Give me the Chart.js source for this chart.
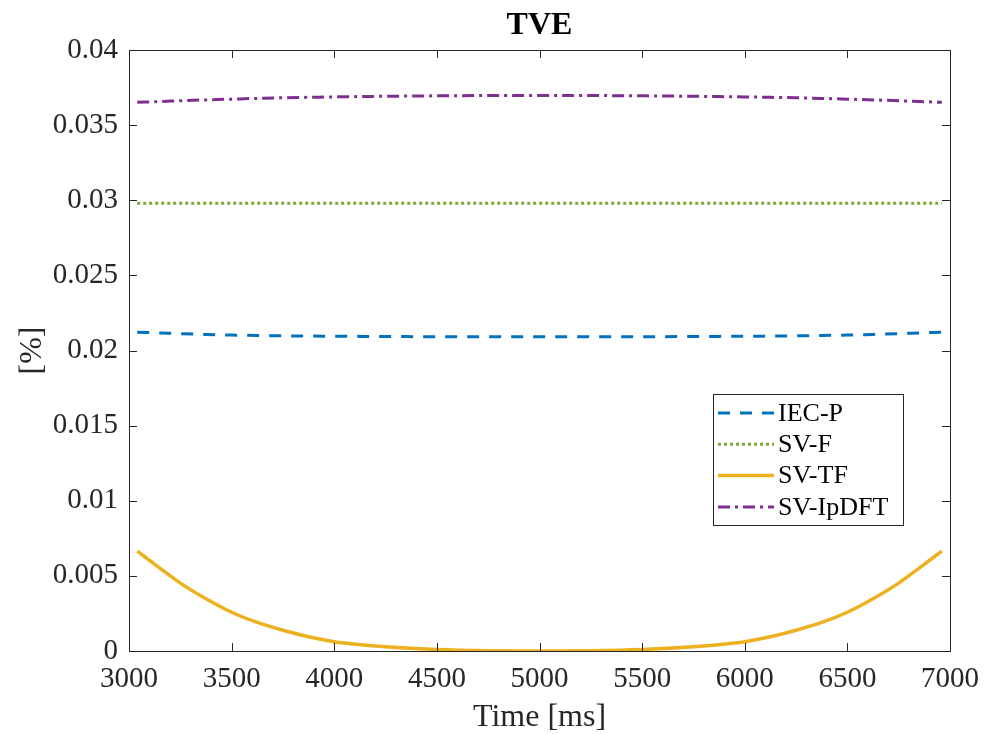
<!DOCTYPE html>
<html>
<head>
<meta charset="utf-8">
<script src="https://cdn.jsdelivr.net/npm/chart.js@4.4.1/dist/chart.umd.min.js"></script>
<style>
  body { margin: 0; background: #fff; }
  #wrap { width: 988px; height: 734px; }
</style>
</head>
<body>
<div id="wrap"><canvas id="graph" width="988" height="734"></canvas></div>
<script>
// valores
const timeMs = [3040, 3150, 3250, 3375, 3500, 3625, 3750, 3875, 4000, 4125, 4250, 4500, 4750, 5000, 5250, 5500, 5750, 5875, 6000, 6125, 6250, 6375, 6500, 6625, 6750, 6850, 6960];
const iecP = [0.02122, 0.02117, 0.02112, 0.02107, 0.02103, 0.02100, 0.02098, 0.02096, 0.02095, 0.02094, 0.02093, 0.02092, 0.02092, 0.02092, 0.02092, 0.02092, 0.02093, 0.02094, 0.02095, 0.02096, 0.02098, 0.02100, 0.02103, 0.02107, 0.02112, 0.02117, 0.02122];
const svF = [0.02980, 0.02980, 0.02980, 0.02980, 0.02980, 0.02980, 0.02980, 0.02980, 0.02980, 0.02980, 0.02980, 0.02980, 0.02980, 0.02980, 0.02980, 0.02980, 0.02980, 0.02980, 0.02980, 0.02980, 0.02980, 0.02980, 0.02980, 0.02980, 0.02980, 0.02980, 0.02980];
const svTF = [0.00665, 0.00552, 0.00452, 0.00348, 0.00258, 0.00190, 0.00138, 0.00095, 0.00062, 0.00042, 0.00028, 0.00010, 0.00002, 0.00000, 0.00002, 0.00010, 0.00028, 0.00042, 0.00062, 0.00095, 0.00138, 0.00190, 0.00258, 0.00348, 0.00452, 0.00552, 0.00665];
const svIpDFT = [0.03652, 0.03657, 0.03662, 0.03668, 0.03673, 0.03678, 0.03682, 0.03685, 0.03688, 0.03690, 0.03692, 0.03695, 0.03697, 0.03698, 0.03697, 0.03695, 0.03692, 0.03690, 0.03688, 0.03685, 0.03682, 0.03678, 0.03673, 0.03668, 0.03662, 0.03657, 0.03652];

const seriesNames = ['IEC-P', 'SV-F', 'SV-TF', 'SV-IpDFT'];
const xTicks = [3000, 3500, 4000, 4500, 5000, 5500, 6000, 6500, 7000];
const yTickLabels = ['0', '0.005', '0.01', '0.015', '0.02', '0.025', '0.03', '0.035', '0.04'];

const FONT = "'Liberation Serif', 'Times New Roman', serif";
const AXIS = '#262626';

function pts(arr) {
    return timeMs.map((t, i) => ({ x: t, y: arr[i] }));
}

// caixa, marcas internas, título e legenda no estilo MATLAB
const matlabStyle = {
    id: 'matlabStyle',
    afterDraw(chart) {
        const ctx = chart.ctx;
        const a = chart.chartArea;
        const xs = chart.scales.x;
        const ys = chart.scales.y;
        ctx.save();
        ctx.strokeStyle = AXIS;
        ctx.lineWidth = 1;
        ctx.strokeRect(Math.round(a.left) + 0.5, Math.round(a.top) + 0.5, Math.round(a.right - a.left), Math.round(a.bottom - a.top));

        const tl = 8;
        ctx.beginPath();
        xTicks.forEach(v => {
            const px = Math.round(xs.getPixelForValue(v)) + 0.5;
            ctx.moveTo(px, a.bottom); ctx.lineTo(px, a.bottom - tl);
            ctx.moveTo(px, a.top); ctx.lineTo(px, a.top + tl);
        });
        yTickLabels.forEach((s, i) => {
            const py = Math.round(ys.getPixelForValue(i * 0.005)) + 0.5;
            ctx.moveTo(a.left, py); ctx.lineTo(a.left + tl, py);
            ctx.moveTo(a.right, py); ctx.lineTo(a.right - tl, py);
        });
        ctx.stroke();

        // título
        ctx.fillStyle = '#000';
        ctx.font = 'bold 32px ' + FONT;
        ctx.textAlign = 'center';
        ctx.textBaseline = 'middle';
        ctx.fillText('TVE', (a.left + a.right) / 2, 26);

        // legenda
        const bx = 713, by = 394, bw = 190, bh = 131;
        ctx.fillStyle = '#fff';
        ctx.fillRect(bx, by, bw, bh);
        ctx.strokeStyle = AXIS;
        ctx.strokeRect(bx + 0.5, by + 0.5, bw, bh);
        ctx.font = '26px ' + FONT;
        ctx.textAlign = 'left';
        chart.data.datasets.forEach((ds, i) => {
            const y = 413 + i * 31.3;
            ctx.beginPath();
            ctx.strokeStyle = ds.borderColor;
            ctx.lineWidth = ds.borderWidth;
            ctx.setLineDash(ds.borderDash || []);
            ctx.moveTo(718, y); ctx.lineTo(774, y);
            ctx.stroke();
            ctx.setLineDash([]);
            ctx.fillStyle = '#000';
            ctx.fillText(ds.label, 778, y + 1);
        });
        ctx.restore();
    }
};

const ctxGrafico = document.getElementById('graph').getContext('2d');
new Chart(ctxGrafico, {
    type: 'line',
    data: {
        datasets: [
            { label: seriesNames[0], data: pts(iecP), borderColor: '#0072BD', borderWidth: 3, borderDash: [12, 10] },
            { label: seriesNames[1], data: pts(svF), borderColor: '#77AC30', borderWidth: 3, borderDash: [3, 3] },
            { label: seriesNames[2], data: pts(svTF), borderColor: '#EDB120', borderWidth: 3.5 },
            { label: seriesNames[3], data: pts(svIpDFT), borderColor: '#7E2F8E', borderWidth: 3, borderDash: [12, 5, 3, 5] }
        ]
    },
    options: {
        responsive: false,
        animation: false,
        layout: { padding: { top: 50, right: 38, left: 10, bottom: 0 } },
        elements: {
            point: { radius: 0 },
            line: { cubicInterpolationMode: 'monotone', fill: false }
        },
        plugins: {
            legend: { display: false },
            title: { display: false },
            tooltip: { enabled: false }
        },
        scales: {
            x: {
                type: 'linear',
                min: 3000,
                max: 7000,
                afterFit(scale) { scale.height = 83; scale.paddingLeft = 0; scale.paddingRight = 0; },
                afterBuildTicks(scale) { scale.ticks = xTicks.map(v => ({ value: v })); },
                grid: { display: false, drawTicks: false },
                border: { display: false },
                ticks: {
                    color: AXIS,
                    font: { family: FONT, size: 29 },
                    padding: 11,
                    maxRotation: 0,
                    callback: (value) => String(value)
                },
                title: { display: true, text: 'Time [ms]', color: AXIS, font: { family: FONT, size: 32, lineHeight: 1.05 }, padding: 0 }
            },
            y: {
                min: 0,
                max: 0.04,
                afterFit(scale) { scale.width = 119; },
                afterBuildTicks(scale) { scale.ticks = yTickLabels.map((s, i) => ({ value: i * 0.005 })); },
                grid: { display: false, drawTicks: false },
                border: { display: false },
                ticks: {
                    color: AXIS,
                    font: { family: FONT, size: 29 },
                    padding: 11,
                    callback: (value, index) => yTickLabels[index]
                },
                title: { display: true, text: '[%]', color: AXIS, font: { family: FONT, size: 32 }, padding: { top: 3, bottom: 0 } }
            }
        }
    },
    plugins: [matlabStyle]
});
</script>
</body>
</html>
